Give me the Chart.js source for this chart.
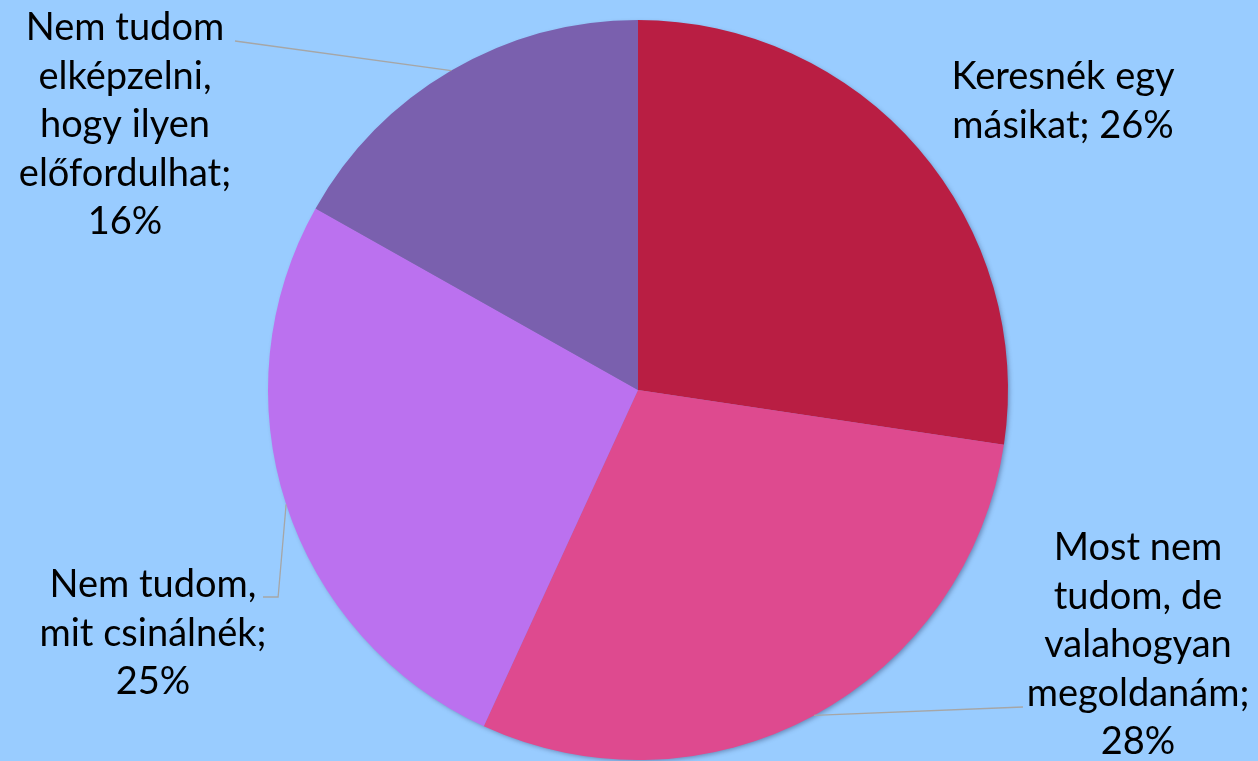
<!DOCTYPE html>
<html>
<head>
<meta charset="utf-8">
<script src="https://cdn.jsdelivr.net/npm/chart.js@4/dist/chart.umd.min.js"></script>
<style>
	html, body { margin: 0; padding: 0; background: #99ccff; }
	#wrap { width: 1258px; height: 761px; }
</style>
</head>
<body>
<div id="wrap"><canvas id="pie"></canvas></div>
<script>
// Pie: answers with share in percent
const categories = [
	['Keresnék egy', 'másikat; 26%'],
	['Most nem', 'tudom, de', 'valahogyan', 'megoldanám;', '28%'],
	['Nem tudom,', 'mit csinálnék;', '25%'],
	['Nem tudom', 'elképzelni,', 'hogy ilyen', 'előfordulhat;', '16%']
];
const values = [26, 28, 25, 16];
const colors = ['#b91e43', '#de4a8f', '#bb71ef', '#7a60ae'];

// label block centres and first baseline, plus where the leader line starts (null = no line)
const labelPos = [
	{ x: 1063, y: 89, line: null },
	{ x: 1138, y: 560, line: { x: 1023, y: 707 } },
	{ x: 153, y: 597, line: { x: 263, y: 597, elbow: true } },
	{ x: 125, y: 40, line: { x: 235, y: 41 } }
];
const LINE_H = 48.5;

const shadowPlugin = {
	id: 'pieShadow',
	beforeDatasetsDraw(chart) {
		const arc = chart.getDatasetMeta(0).data[0];
		if (!arc) return;
		const { x, y, outerRadius } = arc.getProps(['x', 'y', 'outerRadius'], true);
		const ctx = chart.ctx;
		ctx.save();
		ctx.shadowColor = 'rgba(0,0,40,0.35)';
		ctx.shadowBlur = 5;
		ctx.shadowOffsetX = 2;
		ctx.shadowOffsetY = 2;
		ctx.fillStyle = '#8a7ab8';
		ctx.beginPath();
		ctx.arc(x, y, outerRadius - 1, 0, Math.PI * 2);
		ctx.fill();
		ctx.restore();
	}
};

const labelPlugin = {
	id: 'outLabels',
	afterDatasetsDraw(chart) {
		const ctx = chart.ctx;
		const arcs = chart.getDatasetMeta(0).data;
		ctx.save();
		arcs.forEach((arc, i) => {
			const { x, y, startAngle, endAngle, outerRadius } = arc.getProps(['x', 'y', 'startAngle', 'endAngle', 'outerRadius'], true);
			const p = labelPos[i];
			// leader line to the middle of the slice edge
			if (p.line) {
				const mid = (startAngle + endAngle) / 2;
				const ex = x + Math.cos(mid) * outerRadius, ey = y + Math.sin(mid) * outerRadius;
				ctx.strokeStyle = '#a6a6a6';
				ctx.lineWidth = 1.3;
				ctx.beginPath();
				ctx.moveTo(p.line.x, p.line.y);
				if (p.line.elbow) ctx.lineTo(ex - 8, p.line.y);
				ctx.lineTo(ex, ey);
				ctx.stroke();
			}
			ctx.fillStyle = '#000';
			ctx.font = "38px Lato, 'Open Sans', sans-serif";
			ctx.textAlign = 'center';
			ctx.textBaseline = 'alphabetic';
			categories[i].forEach((t, k) => ctx.fillText(t, p.x, p.y + k * LINE_H));
		});
		ctx.restore();
	}
};

new Chart(document.getElementById('pie'), {
	type: 'pie',
	data: {
		labels: categories.map(c => c.join(' ')),
		datasets: [{ data: values, backgroundColor: colors, borderWidth: 0, hoverOffset: 0 }]
	},
	options: {
		responsive: true,
		maintainAspectRatio: false,
		animation: false,
		layout: { padding: { left: 268, right: 250, top: 20, bottom: 1 } },
		plugins: { legend: { display: false }, tooltip: { enabled: false } }
	},
	plugins: [shadowPlugin, labelPlugin]
});
</script>
</body>
</html>
